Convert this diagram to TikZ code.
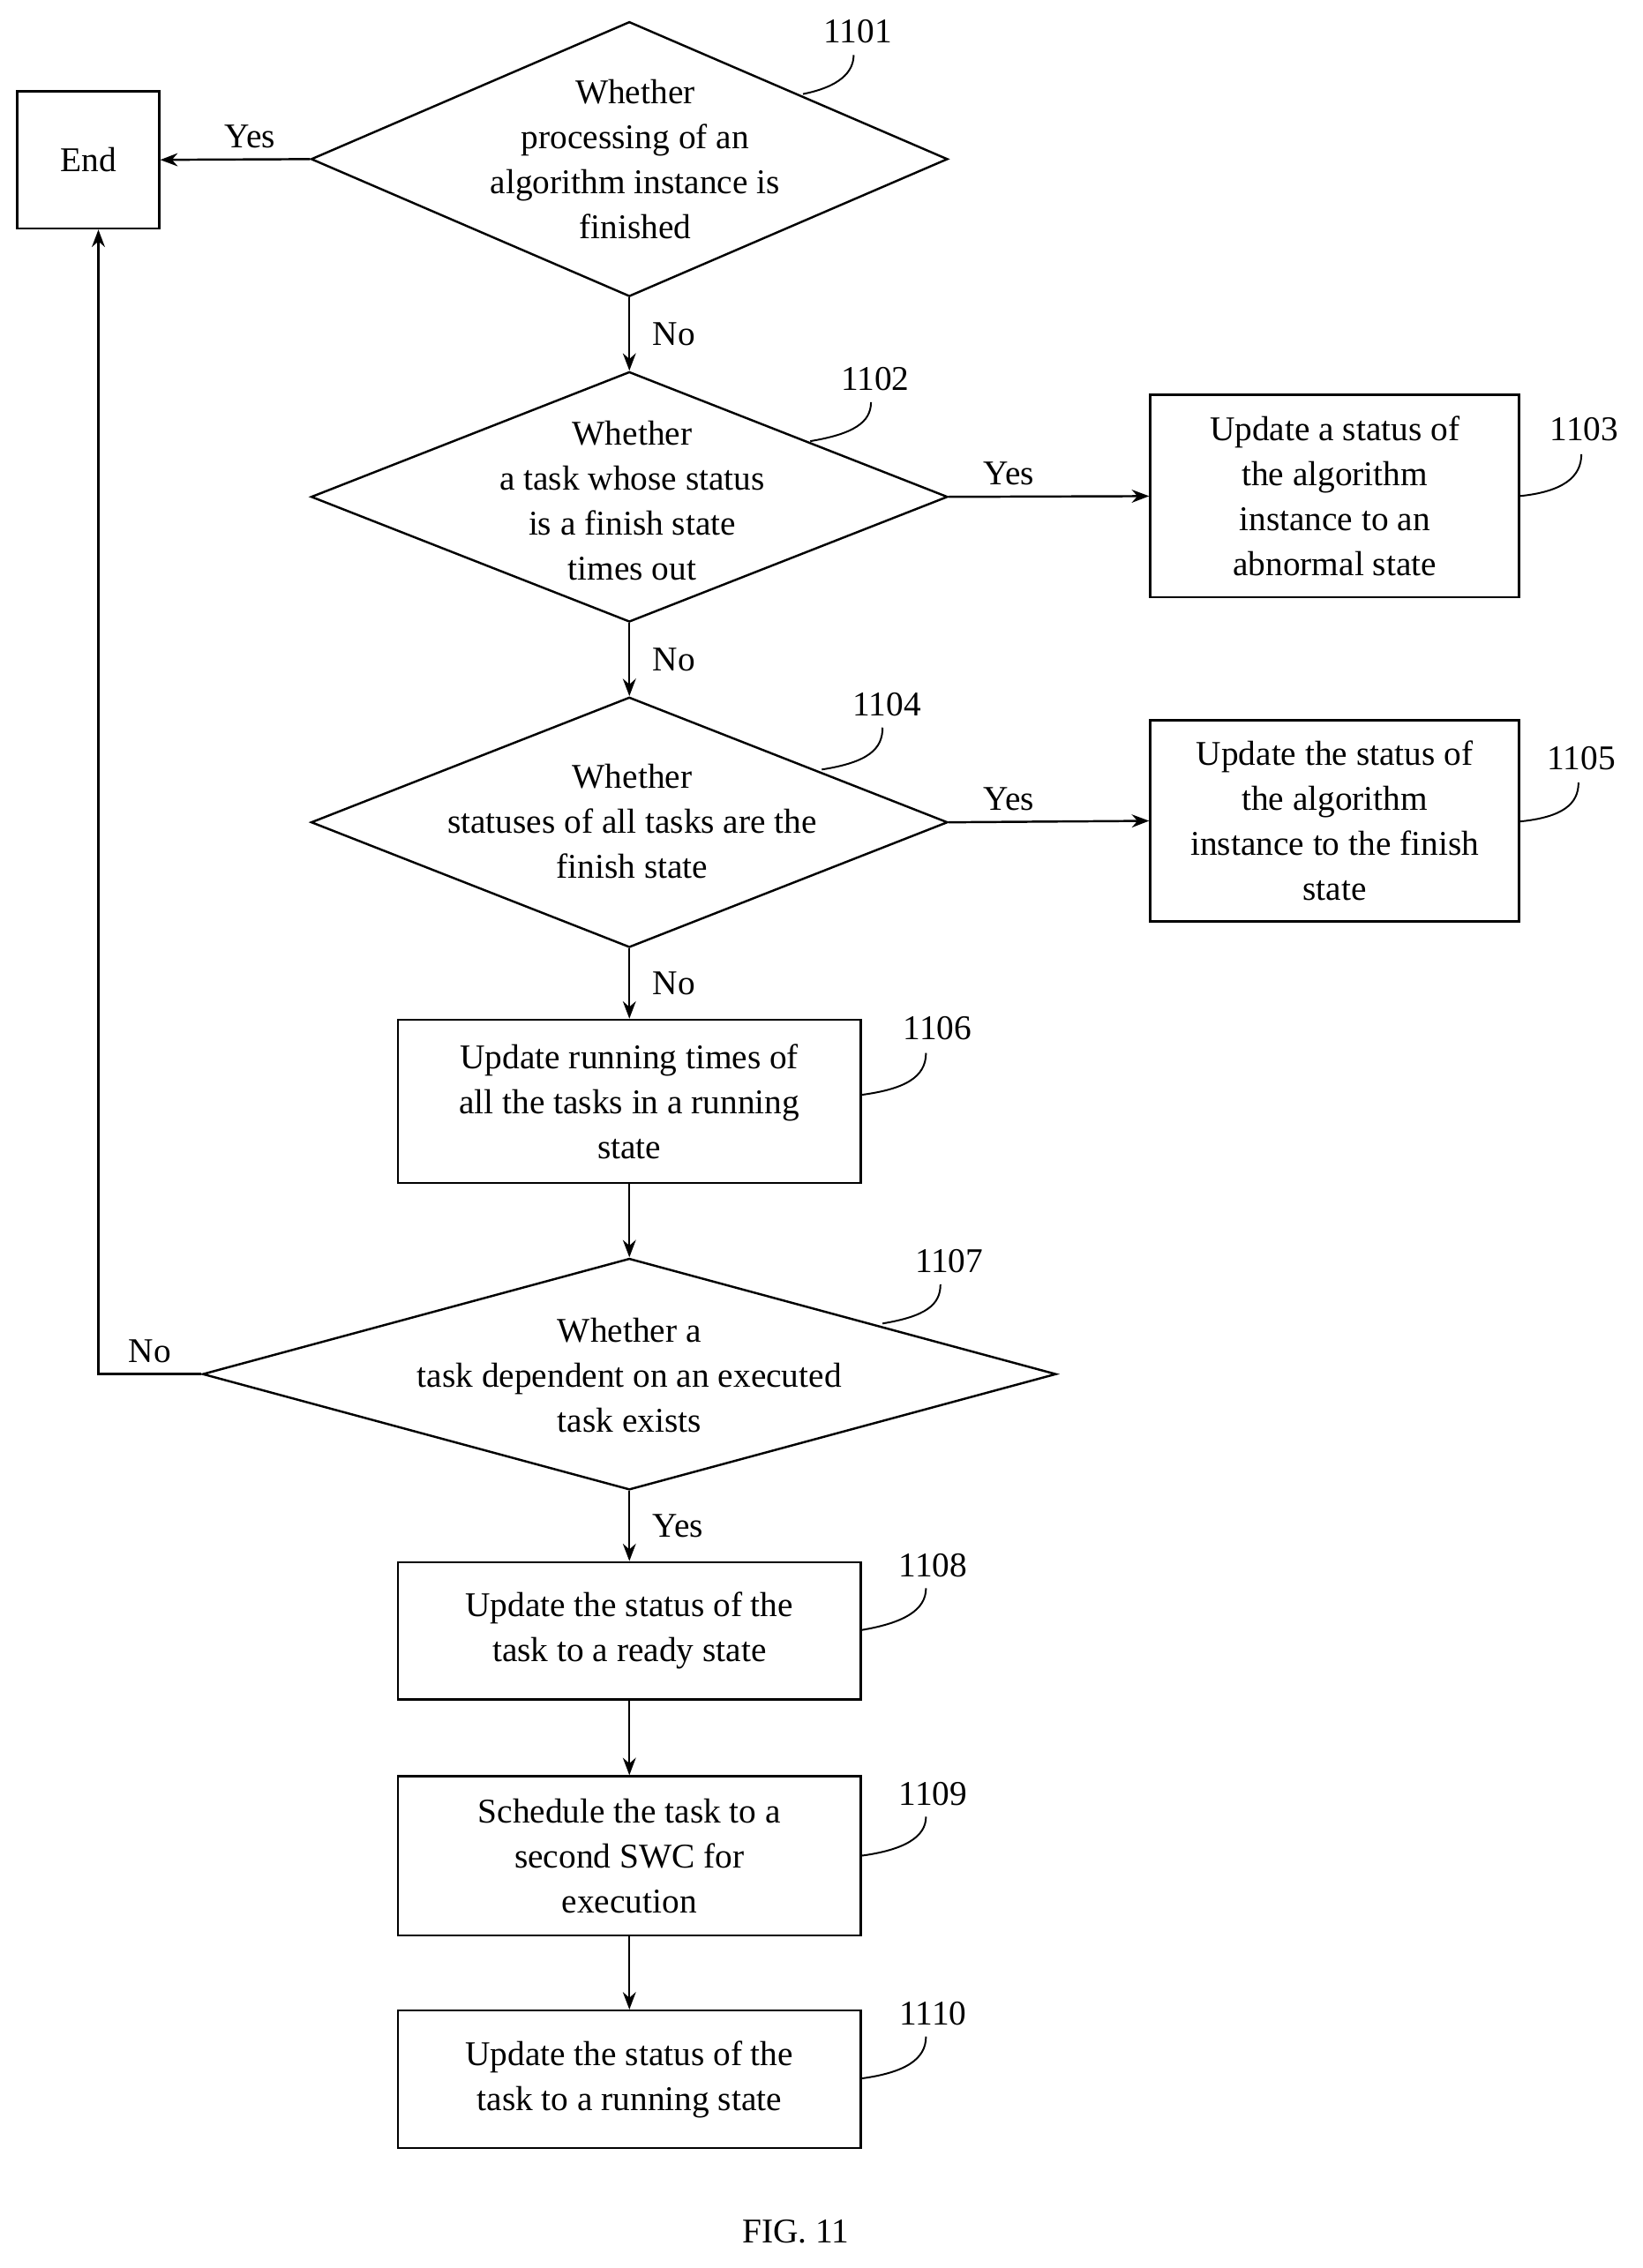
\documentclass[tikz,border=0pt]{standalone}
\usepackage{fontspec}
\setmainfont{Liberation Serif}
\usetikzlibrary{shapes.geometric,arrows.meta}
\begin{document}
\begin{tikzpicture}[x=1pt,y=-1pt,
  every node/.style={font=\fontsize{24}{31}\selectfont},
  box/.style={draw,line width=1.5pt,align=center,inner sep=0},
  dia/.style={draw,line width=1.5pt,diamond,inner sep=0},
  txt/.style={align=center,inner sep=0},
  arr/.style={line width=1.5pt,-{Stealth[length=12pt,width=9pt]}},
  lead/.style={line width=1.2pt},
  lab/.style={inner sep=0}]
\useasboundingbox (0,0) rectangle (1135,1568);
% nodes
\node[box,minimum width=98pt,minimum height=95pt] (end) at (61,110.5) {End};
\node[dia,minimum width=440pt,minimum height=190pt] (d1) at (435,110) {};
\node[txt] at (439,110) {Whether\\processing of an\\algorithm instance is\\finished};
\node[dia,minimum width=440pt,minimum height=173pt] (d2) at (435,343.5) {};
\node[txt] at (437,346) {Whether\\a task whose status\\is a finish state\\times out};
\node[box,minimum width=255pt,minimum height=140pt] (b3) at (922.5,343) {Update a status of\\the algorithm\\instance to an\\abnormal state};
\node[dia,minimum width=440pt,minimum height=173pt] (d4) at (435,568.5) {};
\node[txt] at (437,568) {Whether\\statuses of all tasks are the\\finish state};
\node[box,minimum width=255pt,minimum height=139pt] (b5) at (922.5,567.5) {Update the status of\\the algorithm\\instance to the finish\\state};
\node[box,minimum width=320pt,minimum height=113pt] (b6) at (435,761.5) {Update running times of\\all the tasks in a running\\state};
\node[dia,minimum width=590pt,minimum height=160pt] (d7) at (435,950) {};
\node[txt] at (435,951) {Whether a\\task dependent on an executed\\task exists};
\node[box,minimum width=320pt,minimum height=95pt] (b8) at (435,1127.5) {Update the status of the\\task to a ready state};
\node[box,minimum width=320pt,minimum height=110pt] (b9) at (435,1283) {Schedule the task to a\\second SWC for\\execution};
\node[box,minimum width=320pt,minimum height=95pt] (b10) at (435,1437.5) {Update the status of the\\task to a running state};
\node[lab] at (550,1543) {FIG. 11};
% connectors
\draw[arr] (d1.west) -- node[above=4pt,pos=0.4]{Yes} (end.east);
\draw[arr] (d1.south) -- node[right=12pt,pos=0.5]{No} (d2.north);
\draw[arr] (d2.east) -- node[above=4pt,pos=0.3]{Yes} (b3.west);
\draw[arr] (d2.south) -- node[right=12pt,pos=0.5]{No} (d4.north);
\draw[arr] (d4.east) -- node[above=4pt,pos=0.3]{Yes} (b5.west);
\draw[arr] (d4.south) -- node[right=12pt,pos=0.5]{No} (b6.north);
\draw[arr] (b6.south) -- (d7.north);
\draw[arr] (d7.west) -- node[above=4pt,pos=0.5]{No} (68,950) -- (end.south -| 68,0);
\draw[arr] (d7.south) -- node[right=12pt,pos=0.5]{Yes} (b8.north);
\draw[arr] (b8.south) -- (b9.north);
\draw[arr] (b9.south) -- (b10.north);
% reference labels
\node[lab] (l1) at (593,22) {1101};
\draw[lead] (555,65) .. controls (580,60) and (590,50) .. (590,38);
\node[lab] (l2) at (605,262) {1102};
\draw[lead] (560,305) .. controls (590,300) and (602,292) .. (602,278);
\node[lab] (l3) at (1095,297) {1103};
\draw[lead] (1050,343) .. controls (1080,340) and (1093,330) .. (1093,314);
\node[lab] (l4) at (613,487) {1104};
\draw[lead] (568,532) .. controls (600,527) and (610,518) .. (610,503);
\node[lab] (l5) at (1093,524) {1105};
\draw[lead] (1050,568) .. controls (1080,565) and (1091,556) .. (1091,541);
\node[lab] (l6) at (648,711) {1106};
\draw[lead] (595,757) .. controls (625,753) and (640,745) .. (640,728);
\node[lab] (l7) at (656,872) {1107};
\draw[lead] (610,915) .. controls (640,910) and (650,902) .. (650,888);
\node[lab] (l8) at (645,1082) {1108};
\draw[lead] (595,1127) .. controls (625,1122) and (640,1113) .. (640,1098);
\node[lab] (l9) at (645,1240) {1109};
\draw[lead] (595,1283) .. controls (625,1279) and (640,1270) .. (640,1256);
\node[lab] (l10) at (645,1392) {1110};
\draw[lead] (595,1437) .. controls (625,1433) and (640,1424) .. (640,1408);
\end{tikzpicture}
\end{document}
